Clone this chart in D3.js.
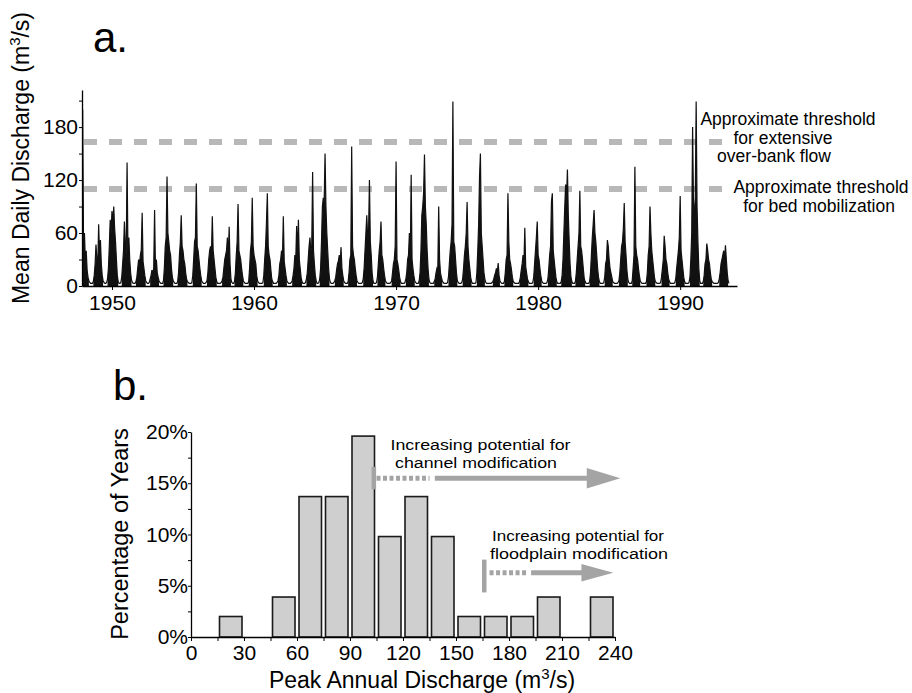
<!DOCTYPE html>
<html>
<head>
<meta charset="utf-8">
<script src="https://cdn.jsdelivr.net/npm/d3@7"></script>
<style>
  body { margin: 0; background: #fff; }
  svg { display: block; font-family: "Liberation Sans", Arial, Helvetica, sans-serif; }
</style>
</head>
<body>
<div id="chart"></div>
<script>
// ---- panel a: mean daily discharge (m3/s), 16 readings per year, centred on each year ----
const years = d3.range(1948, 1994);
const dailyQ = [
  [3,3,3,4,6,20,84,200,45,60,30,40,18,10,6,4],
  [3,3,3,5,12,25,47,30,22,70,35,52,25,12,6,4],
  [3,3,4,8,20,45,75,60,85,70,90,65,50,30,12,5],
  [3,3,4,10,25,40,73,45,35,140,40,55,30,15,7,4],
  [3,3,3,5,10,20,30,25,35,41,83,28,20,12,6,4],
  [3,3,4,8,12,18,15,20,86,18,30,15,10,6,4,3],
  [3,3,6,20,45,55,124,60,50,40,35,20,10,6,4,3],
  [3,3,5,15,35,50,80,45,40,30,25,15,8,5,4,3],
  [3,3,4,12,30,50,55,116,45,40,30,20,12,6,4,3],
  [3,3,4,6,15,30,40,45,35,79,40,30,20,10,5,3],
  [3,3,3,4,6,10,20,30,35,40,55,30,67,25,8,4],
  [3,3,5,15,35,50,93,40,35,30,20,12,6,4,3,3],
  [3,3,5,20,40,50,100,45,35,30,25,12,6,4,3,3],
  [3,3,4,12,30,45,72,105,45,35,30,18,8,5,3,3],
  [3,3,4,6,12,25,30,40,30,79,28,20,12,6,4,3],
  [3,3,4,6,12,20,35,30,68,35,75,30,20,10,5,3],
  [3,3,4,8,15,30,45,55,40,45,129,40,25,12,6,3],
  [3,4,8,20,50,90,100,95,150,90,60,40,20,8,4,3],
  [3,3,4,6,10,18,25,28,35,25,44,20,12,6,4,3],
  [3,3,5,15,30,35,158,45,35,30,20,12,6,4,3,3],
  [3,3,4,8,20,40,60,80,55,60,120,50,35,15,6,3],
  [3,3,4,10,25,40,50,73,35,30,20,12,6,4,3,3],
  [3,3,4,6,15,25,30,45,141,30,25,18,10,5,3,3],
  [3,3,4,8,15,30,35,60,30,126,30,20,12,6,4,3],
  [3,3,6,15,40,80,90,105,149,90,70,40,20,8,4,3],
  [3,3,3,5,8,15,20,18,90,30,15,10,6,4,3,3],
  [3,3,4,10,25,40,50,70,209,50,45,30,15,6,4,3],
  [3,3,4,8,20,35,45,60,95,45,30,20,10,5,3,3],
  [3,3,4,15,40,70,124,150,60,45,30,15,8,4,3,3],
  [3,3,3,3,4,5,8,12,15,20,15,26,12,6,4,3],
  [3,3,5,15,30,35,105,50,30,25,18,10,5,4,3,3],
  [3,3,3,5,10,18,25,35,25,66,22,15,8,5,3,3],
  [3,3,4,10,25,40,55,73,35,30,20,12,6,4,3,3],
  [3,3,4,8,20,35,45,95,105,40,30,20,10,5,3,3],
  [3,3,5,12,30,60,90,115,100,132,80,50,25,10,5,3],
  [3,3,5,15,30,45,60,108,45,40,30,18,8,5,3,3],
  [3,3,5,15,35,55,70,86,60,50,35,20,10,5,3,3],
  [3,3,4,10,25,30,52,45,30,20,15,10,5,4,3,3],
  [3,3,4,6,15,30,45,50,65,94,50,35,18,8,4,3],
  [3,3,6,20,35,135,45,35,30,20,12,6,4,3,3,3],
  [3,3,5,15,35,45,90,60,40,30,20,10,5,4,3,3],
  [3,3,4,10,20,30,57,45,30,25,15,8,5,3,3,3],
  [3,3,4,8,20,30,40,55,102,40,30,20,10,5,3,3],
  [3,3,4,10,30,60,180,90,85,100,209,90,50,20,6,3],
  [3,3,5,12,25,30,48,40,30,25,15,8,5,4,3,3],
  [3,3,3,4,8,15,25,30,35,40,30,46,30,15,6,3]
];
const thresholdQ = [163, 110];
const thresholdEnd = 1993.2;
const yTicksA = [0, 30, 60, 90, 120, 150, 180, 210];
const xTicksA = [1950, 1960, 1970, 1980, 1990];

// ---- panel b: peak annual discharge histogram ----
const binStart = [15, 45, 60, 75, 90, 105, 120, 135, 150, 165, 180, 195, 225];
const binWidth = 15;
const pctYears = [2, 3.9, 13.7, 13.7, 19.6, 9.8, 13.7, 9.8, 2, 2, 2, 3.9, 3.9];
const xTicksB = d3.range(0, 241, 15);
const yTicksB = d3.range(0, 20.1, 2.5);

// arrows: discharge positions (m3/s) and heights (%)
const arrows = [
  { bar: 103.5, barLo: 14.4, barHi: 16.6, at: 15.5, dotStart: 105, dotEnd: 135, solidStart: 138, headStart: 224, tip: 243, headH: 1.0 },
  { bar: 166, barLo: 4.35, barHi: 7.55, at: 6.26, dotStart: 169, dotEnd: 190, solidStart: 192.5, headStart: 221, tip: 239, headH: 0.85 }
];

const W = 912, H = 693;
const font = '"Liberation Sans", Arial, Helvetica, sans-serif';

const svg = d3.select("#chart").append("svg")
    .attr("width", W)
    .attr("height", H);

// ================= panel a =================
const xA = d3.scaleLinear().domain([1947.89, 1994.0]).range([82, 737]);
const yA = d3.scaleLinear().domain([0, 222]).range([286, 90]);

svg.append("text")
    .attr("x", 93).attr("y", 52)
    .attr("font-size", 42)
    .text("a.");

svg.append("defs").append("clipPath").attr("id", "clipA")
    .append("rect")
    .attr("x", xA.range()[0]).attr("y", 0)
    .attr("width", xA.range()[1] - xA.range()[0]).attr("height", yA(0) + 1);

// threshold lines (under the hydrograph)
svg.append("g")
    .selectAll("line")
    .data(thresholdQ)
    .join("line")
    .attr("x1", xA(xA.domain()[0]) + 2)
    .attr("x2", xA(thresholdEnd))
    .attr("y1", d => yA(d))
    .attr("y2", d => yA(d))
    .attr("stroke", "#b8b8b8")
    .attr("stroke-width", 6)
    .attr("stroke-dasharray", "13,12");

// flatten daily readings
const series = [];
years.forEach((yr, i) => {
    dailyQ[i].forEach((q, k) => {
        series.push({ t: yr - 0.5 + k / 16, q: q });
    });
});

const gA = svg.append("g").attr("clip-path", "url(#clipA)");

gA.append("path")
    .datum(series)
    .attr("fill", "#111")
    .attr("d", d3.area()
        .defined(d => d.q >= 5)
        .x(d => xA(d.t))
        .y0(yA(0))
        .y1(d => yA(d.q)));

gA.append("path")
    .datum(series)
    .attr("fill", "none")
    .attr("stroke", "#111")
    .attr("stroke-width", 1.2)
    .attr("d", d3.line()
        .x(d => xA(d.t))
        .y(d => yA(d.q)));

// axes
const axA = svg.append("g")
    .attr("transform", `translate(0,${yA(0)})`)
    .call(d3.axisBottom(xA).tickValues(xTicksA).tickFormat(d3.format("d"))
        .tickSize(4).tickSizeOuter(0).tickPadding(5));
const ayA = svg.append("g")
    .attr("transform", `translate(${xA.range()[0]},0)`)
    .call(d3.axisLeft(yA).tickValues(yTicksA).tickFormat(d => d % 60 === 0 ? d : "")
        .tickSize(3).tickSizeOuter(0).tickPadding(1));

[axA, ayA].forEach(g => {
    g.attr("font-family", font).attr("font-size", 21);
    g.select(".domain").attr("stroke", "#000").attr("stroke-width", 1.3);
    g.selectAll(".tick line").attr("stroke", "#000");
    g.selectAll(".tick text").attr("fill", "#000");
});

const ylabA = svg.append("text")
    .attr("transform", "translate(29,158) rotate(-90)")
    .attr("text-anchor", "middle")
    .attr("font-size", 23);
ylabA.append("tspan").text("Mean Daily Discharge (m");
ylabA.append("tspan").attr("font-size", 15).attr("dy", -9).text("3");
ylabA.append("tspan").attr("dy", 9).text("/s)");

// threshold labels
const labA = [
    { lines: ["Approximate threshold", "for extensive", "over-bank flow"], xs: [788, 783, 774], ys: [125, 144, 162] },
    { lines: ["Approximate threshold", "for bed mobilization"], xs: [821, 819], ys: [193, 212] }
];
labA.forEach(l => {
    l.lines.forEach((s, j) => {
        svg.append("text")
            .attr("x", l.xs[j]).attr("y", l.ys[j])
            .attr("text-anchor", "middle")
            .attr("font-size", 17.5)
            .text(s);
    });
});

// ================= panel b =================
const xB = d3.scaleLinear().domain([0, 240]).range([191, 615]);
const yB = d3.scaleLinear().domain([0, 20]).range([637, 432]);

svg.append("text")
    .attr("x", 113).attr("y", 400)
    .attr("font-size", 42)
    .text("b.");

svg.append("g")
    .selectAll("rect")
    .data(binStart)
    .join("rect")
    .attr("x", d => xB(d) + 2)
    .attr("width", d => xB(d + binWidth) - xB(d) - 4)
    .attr("y", (d, i) => yB(pctYears[i]))
    .attr("height", (d, i) => yB(0) - yB(pctYears[i]))
    .attr("fill", "#cfcfcf")
    .attr("stroke", "#1a1a1a")
    .attr("stroke-width", 1.6);

const axB = svg.append("g")
    .attr("transform", `translate(0,${yB(0)})`)
    .call(d3.axisBottom(xB).tickValues(xTicksB).tickFormat(d => d % 30 === 0 ? d : "")
        .tickSize(4).tickSizeOuter(0).tickPadding(4));
const ayB = svg.append("g")
    .attr("transform", `translate(${xB(0)},0)`)
    .call(d3.axisLeft(yB).tickValues(yTicksB).tickFormat(d => d % 5 === 0 ? d + "%" : "")
        .tickSize(3).tickSizeOuter(0).tickPadding(0));

[axB, ayB].forEach(g => {
    g.attr("font-family", font).attr("font-size", 21);
    g.select(".domain").attr("stroke", "#000").attr("stroke-width", 1.3);
    g.selectAll(".tick line").attr("stroke", "#000");
    g.selectAll(".tick text").attr("fill", "#000");
});

const xlabB = svg.append("text")
    .attr("x", 422).attr("y", 688)
    .attr("text-anchor", "middle")
    .attr("font-size", 23);
xlabB.append("tspan").text("Peak Annual Discharge (m");
xlabB.append("tspan").attr("font-size", 15).attr("dy", -9).text("3");
xlabB.append("tspan").attr("dy", 9).text("/s)");

svg.append("text")
    .attr("transform", "translate(128,534) rotate(-90)")
    .attr("text-anchor", "middle")
    .attr("font-size", 23.5)
    .text("Percentage of Years");

// arrows
const grey = "#a4a4a4";
const gArr = svg.append("g");
arrows.forEach(a => {
    gArr.append("line")
        .attr("x1", xB(a.bar)).attr("x2", xB(a.bar))
        .attr("y1", yB(a.barLo)).attr("y2", yB(a.barHi))
        .attr("stroke", grey).attr("stroke-width", 4.5);
    gArr.append("line")
        .attr("x1", xB(a.dotStart)).attr("x2", xB(a.dotEnd))
        .attr("y1", yB(a.at)).attr("y2", yB(a.at))
        .attr("stroke", grey).attr("stroke-width", 5)
        .attr("stroke-dasharray", "4,2.5");
    gArr.append("line")
        .attr("x1", xB(a.solidStart)).attr("x2", xB(a.headStart) + 1)
        .attr("y1", yB(a.at)).attr("y2", yB(a.at))
        .attr("stroke", grey).attr("stroke-width", 5);
    gArr.append("polygon")
        .attr("points", [
            [xB(a.headStart), yB(a.at + a.headH)],
            [xB(a.tip), yB(a.at)],
            [xB(a.headStart), yB(a.at - a.headH)]
        ].map(p => p.join(",")).join(" "))
        .attr("fill", grey);
});

// annotation text, stretched sideways like the scanned original
const labB = [
    { lines: ["Increasing potential for", "channel modification"], xs: [480.5, 476], ys: [450, 468], w: [180, 162] },
    { lines: ["Increasing potential for", "floodplain modification"], xs: [578, 579], ys: [541, 559], w: [172, 178] }
];
labB.forEach(l => {
    l.lines.forEach((s, j) => {
        svg.append("text")
            .attr("x", l.xs[j] - l.w[j] / 2).attr("y", l.ys[j])
            .attr("font-size", 15.5)
            .attr("textLength", l.w[j])
            .attr("lengthAdjust", "spacingAndGlyphs")
            .text(s);
    });
});
</script>
</body>
</html>
